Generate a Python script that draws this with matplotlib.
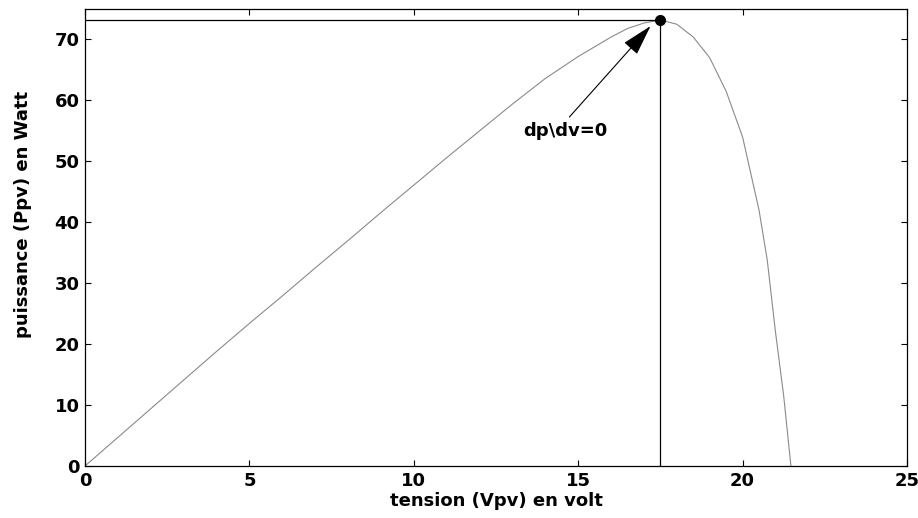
import matplotlib
matplotlib.use("Agg")
import matplotlib.pyplot as plt

# PV power curve: module voltage (V) and delivered power (W)
tension = [0, 1, 2, 3, 4, 5, 6, 7, 8, 9, 10, 11, 12, 13, 14, 15, 16, 16.5,
           17, 17.5, 18, 18.5, 19, 19.5, 20, 20.5, 20.75, 21, 21.25, 21.47]
puissance = [0, 4.7, 9.4, 14.1, 18.8, 23.4, 27.9, 32.5, 37.0, 41.6, 46.1,
             50.6, 55.0, 59.4, 63.6, 67.2, 70.4, 71.8, 72.7, 73.2, 72.5,
             70.4, 67.0, 61.5, 54.0, 42.0, 33.8, 22.0, 11.5, 0]

# Maximum power point
v_mpp = 17.5
p_mpp = 73.2

x_ticks = [0, 5, 10, 15, 20, 25]
y_ticks = [0, 10, 20, 30, 40, 50, 60, 70]

plt.rcParams['font.family'] = ['DejaVu Sans']

fig = plt.figure(figsize=(9.18, 5.18), dpi=100)
ax = fig.add_axes([0.0926, 0.1004, 0.8954, 0.8822])

ax.plot(tension, puissance, color='#8a8a8a', linewidth=0.8)
ax.plot([0, v_mpp], [p_mpp, p_mpp], color='black', linewidth=0.9)
ax.plot([v_mpp, v_mpp], [0, p_mpp], color='black', linewidth=0.9)
ax.plot([v_mpp], [p_mpp], marker='o', color='black', markersize=7)

ax.annotate('dp\\dv=0', xy=(v_mpp - 0.3, p_mpp - 1.0), xytext=(14.6, 55),
            ha='center', va='center', fontsize=13, fontweight='bold',
            arrowprops=dict(arrowstyle='-|>,head_length=1.5,head_width=0.42',
                            color='black', lw=0.8, shrinkA=2, shrinkB=0,
                            relpos=(0.5, 1.0)))

ax.set_xlim(0, 25)
ax.set_ylim(0, 75)
ax.set_xticks(x_ticks)
ax.set_yticks(y_ticks)
ax.tick_params(direction='in', length=4, width=0.8, labelsize=13,
               top=True, right=True, pad=4)
for lab in ax.get_xticklabels() + ax.get_yticklabels():
    lab.set_fontweight('bold')
for s in ax.spines.values():
    s.set_linewidth(0.9)

ax.set_xlabel('tension (Vpv) en volt', fontsize=13, fontweight='bold',
              labelpad=2)
ax.set_ylabel('puissance (Ppv) en Watt', fontsize=13, fontweight='bold')
ax.yaxis.set_label_coords(-0.064, 0.55)

fig.savefig('out.png', dpi=100)
